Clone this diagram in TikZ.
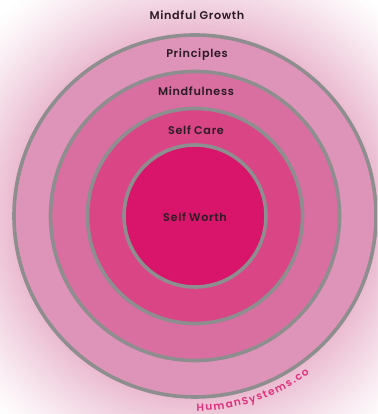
\documentclass[tikz,border=0pt]{standalone}
\usepackage{fontspec}
\setmainfont{Poppins}[BoldFont={Poppins SemiBold}]
\usetikzlibrary{decorations.text}
\definecolor{ringA}{HTML}{DE93B8}
\definecolor{ringB}{HTML}{D86FA0}
\definecolor{ringC}{HTML}{D94585}
\definecolor{ringD}{HTML}{D8156A}
\definecolor{ringline}{HTML}{8E8E8E}
\definecolor{labeltext}{HTML}{2B1B24}
\definecolor{hspink}{HTML}{E0317C}
\definecolor{bgA}{HTML}{EABAD0}
\tikzset{
  ring/.style={circle, draw=ringline, line width=3.6pt, inner sep=0pt, outer sep=0pt},
  lbl/.style={anchor=base, text=labeltext, font=\bfseries\fontsize{11.2}{11.2}\selectfont\addfontfeature{LetterSpace=6}, inner sep=0pt}
}
\begin{document}
\begin{tikzpicture}[x=1pt,y=1pt]
\useasboundingbox (0,0) rectangle (377,414);
\clip (0,0) rectangle (377,414);
\coordinate (C) at (195,198);
\fill[white] (0,0) rectangle (377,414);
\foreach \r in {290,288,...,182}{
  \pgfmathsetmacro{\t}{max(0,min(1,(280-\r)/98))}
  \pgfmathsetmacro{\p}{100*\t^1.2}
  \fill[bgA!\p!white] (C) circle[radius=\r];
}
\node[ring, fill=ringA, minimum size=362pt] (outer) at (C) {};
\node[ring, fill=ringB, minimum size=289pt] (second) at (C) {};
\node[ring, fill=ringC, minimum size=215pt] (third) at (C) {};
\node[ring, fill=ringD, minimum size=142pt] (inner) at (C) {};
\node[lbl] (growth) at (197,394.5) {Mindful Growth};
\node[lbl] (principles) at (197,356) {Principles};
\node[lbl] (mindfulness) at (196,318) {Mindfulness};
\node[lbl] (selfcare) at (196,279) {Self Care};
\node[lbl] (selfworth) at (195,192) {Self Worth};
\path[decorate, decoration={text along path, text align={fit to path}, text color=hspink,
  text={|\bfseries\fontsize{10.5}{10.5}\selectfont|HumanSystems.co}}]
  (C) ++(-89.5:195) arc[start angle=-89.5, end angle=-54, radius=195];
\end{tikzpicture}
\end{document}
